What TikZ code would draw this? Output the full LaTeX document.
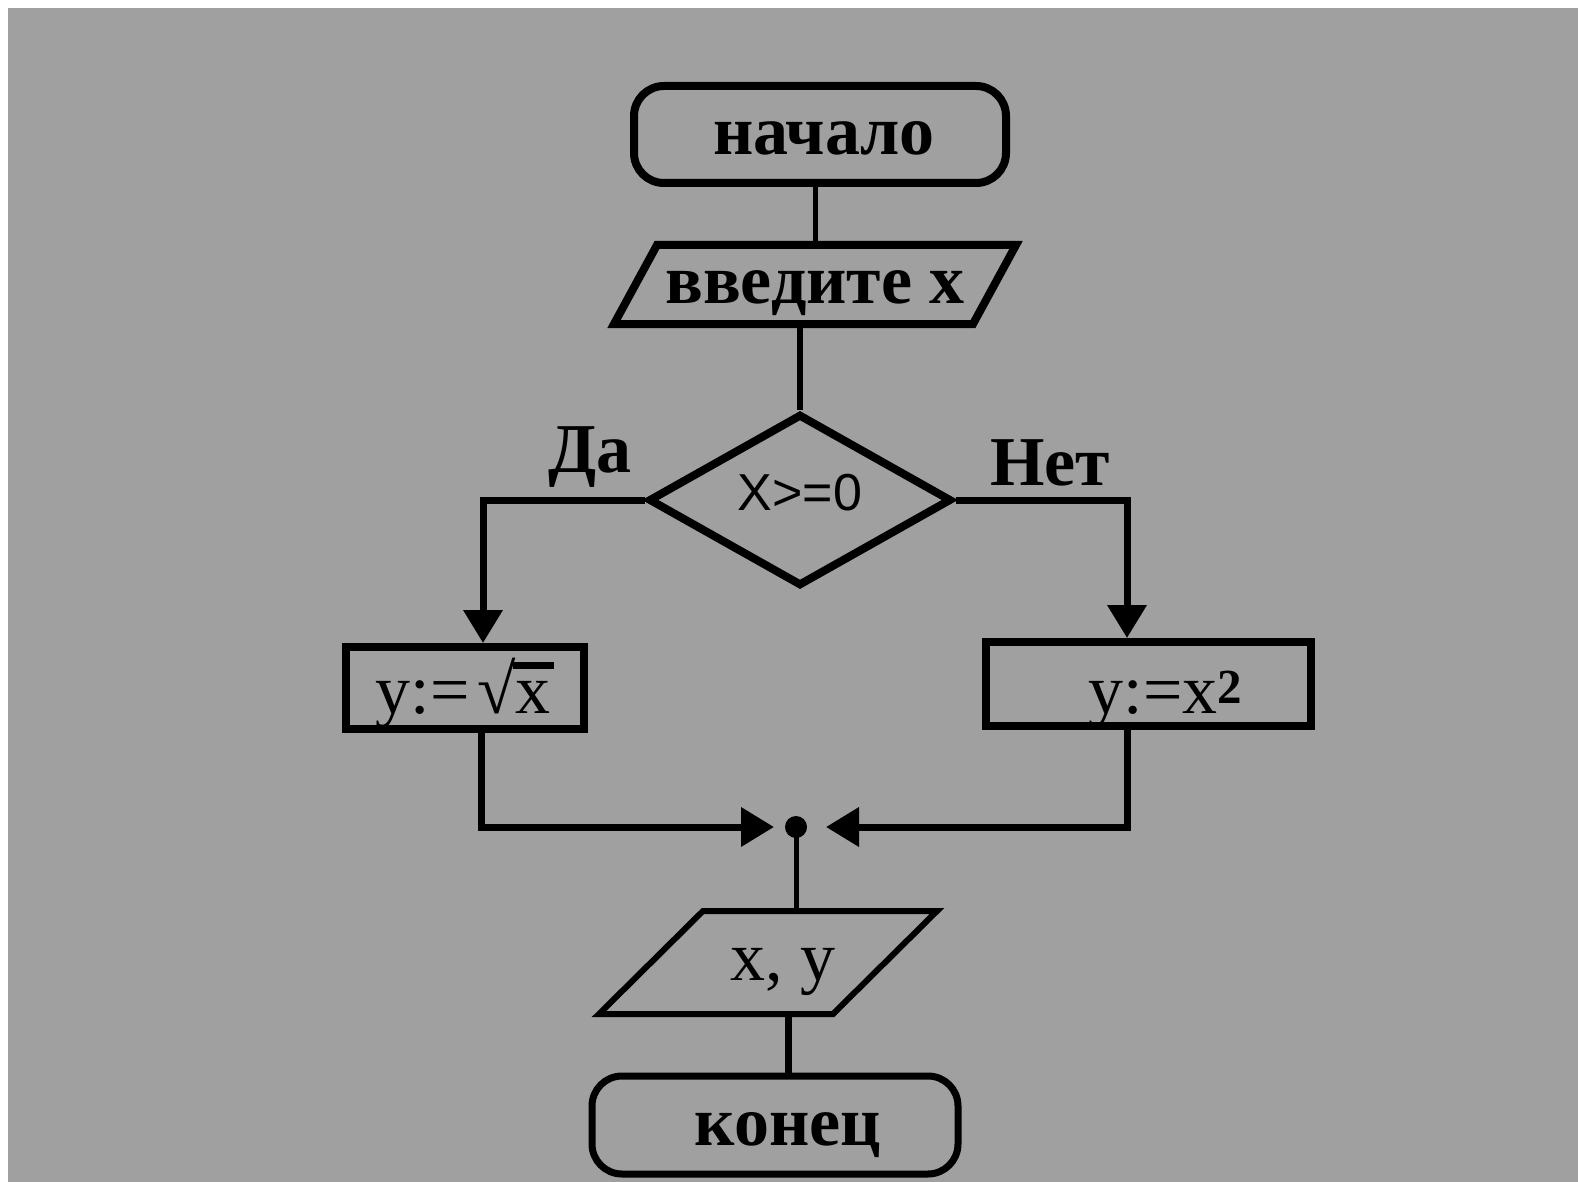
\documentclass[tikz,border=0pt]{standalone}
\usepackage{fontspec}
\setmainfont{Liberation Serif}
\setsansfont{Liberation Sans}
\usetikzlibrary{shapes.geometric,arrows.meta,calc}
\definecolor{bg}{RGB}{160,160,160}
\begin{document}
\begin{tikzpicture}[x=1pt,y=-1pt,
  big/.style={font=\fontsize{70pt}{80pt}\selectfont},
  bigb/.style={font=\fontsize{70pt}{80pt}\selectfont\bfseries},
  term/.style={draw, rectangle, rounded corners=30pt, inner sep=0pt, line width=8pt, bigb},
  iobox/.style={rectangle, inner sep=0pt, outer sep=0pt},
  proc/.style={draw, rectangle, inner sep=0pt, line width=8pt, big},
  dec/.style={draw, diamond, inner sep=0pt, line width=8pt},
  conn/.style={line width=6pt},
  arr/.style={line width=7pt, -{Triangle[length=33pt,width=38pt]}},
  lbl/.style={bigb, inner sep=0pt}
]
\useasboundingbox (0,0) rectangle (1578,1182);
\fill[white] (0,0) rectangle (1578,1182);
\fill[bg] (8,8) rectangle (1578,1182);

\node[term, minimum width=372pt, minimum height=97pt, text height=45pt, text depth=4pt] (start) at (820,134.5) {\hspace*{8pt}начало};
\node[iobox, bigb, minimum width=402pt, minimum height=79pt, text height=40pt, text depth=3pt] (in) at (815,284.5) {введите x};
\draw[line width=8pt, line join=miter]
  ([xshift=43pt]in.north west) -- (in.north east) -- ([xshift=-43pt]in.south east) -- (in.south west) -- cycle;
\node[dec, minimum width=303pt, minimum height=172pt, text height=22pt, text depth=2pt,
      font=\fontsize{52pt}{60pt}\selectfont\sffamily] (d) at (800,500) {X>=0};
\node[proc, minimum width=238pt, minimum height=82pt, text height=52pt, text depth=2pt] (lbox) at (465,688)
  {y:=\hspace{8pt}\textbf{√}\kern-3pt\vbox{\hrule height 7pt\kern 12pt\hbox{\kern2pt x\kern4pt}}};
\node[proc, minimum width=325pt, minimum height=84pt, text height=60pt, text depth=2pt] (rbox) at (1148.5,684)
  {\hspace*{34pt}y:=x\textsuperscript{\textbf{2}}};
\node[circle, fill=black, inner sep=0pt, minimum size=22pt] (j) at (796,827) {};
\node[iobox, big, minimum width=338pt, minimum height=103pt, text height=38pt, text depth=3pt] (out) at (768,962.5) {\hspace*{30pt}x, y};
\draw[line width=6pt, line join=miter]
  ([xshift=104pt]out.north west) -- (out.north east) -- ([xshift=-104pt]out.south east) -- (out.south west) -- cycle;
\node[term, line width=7pt, minimum width=366pt, minimum height=98pt, text height=43pt, text depth=3pt] (end) at (775,1125) {\hspace*{26pt}конец};

\node[lbl, anchor=base west] (da) at (548,472) {Да};
\node[lbl, anchor=base west] (net) at (990,485) {Нет};

\draw[conn, line width=5pt] (start.south -| in.north) -- (in.north);
\draw[conn] (in.south -| d.north) -- (d.north);
\draw[arr] (d.west) -| ([xshift=18pt]lbox.north);
\draw[arr] (d.east) -| ([xshift=-21.5pt]rbox.north);
\draw[arr] ([xshift=16pt]lbox.south) |- ([xshift=-22pt]j.center);
\draw[arr] ([xshift=-21.5pt]rbox.south) |- ([xshift=30pt]j.center);
\draw[conn, line width=5pt] (j.center) -- (j.center |- out.north);
\draw[conn, line width=7pt] ([xshift=13pt]end.north) -- ([xshift=13pt]end.north |- out.south);
\end{tikzpicture}
\end{document}
